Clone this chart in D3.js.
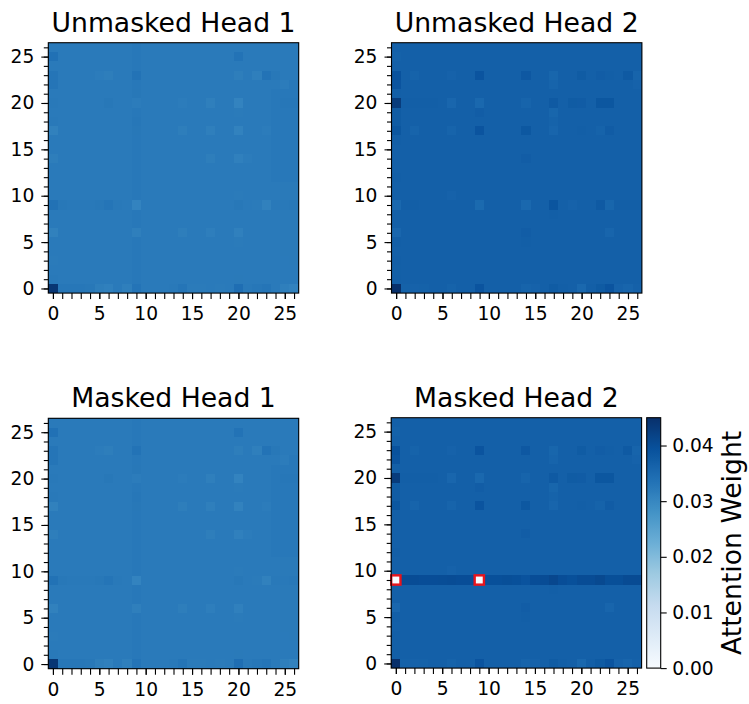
<!DOCTYPE html>
<html>
<head>
<meta charset="utf-8">
<script src="https://cdn.jsdelivr.net/npm/d3@7"></script>
<style>
  body { margin: 0; background: #fff; }
  text { font-family: "DejaVu Sans", sans-serif; fill: #000; }
</style>
</head>
<body>
<svg id="chart" width="749" height="704"></svg>
<script>
// Token positions along both axes (27 x 27 attention maps)
const positions = d3.range(27);
const majorTicks = [0, 5, 10, 15, 20, 25];
const colorDomain = [0, 0.045];
const colorbarTicks = [0, 0.01, 0.02, 0.03, 0.04];
const panelTitles = ["Unmasked Head 1", "Unmasked Head 2", "Masked Head 1", "Masked Head 2"];
const colorbarLabel = "Attention Weight";
// Masked (row, col) entries of head 2
const maskedCells = [[9, 0], [9, 9]];

// Attention weights, matrix[row][col], row 0 drawn at the bottom
const unmaskedHead1 = [
  [.0440,.0328,.0328,.0327,.0326,.0316,.0312,.0322,.0314, .0332,.0322,.0322,.0322,.0324,.0331,.0320,.0320,.0322, .0320,.0322,.0342,.0324,.0328,.0330,.0322,.0314,.0308],
  [.0324,.0322,.0322,.0322,.0322,.0322,.0322,.0322,.0322, .0325,.0322,.0322,.0322,.0322,.0322,.0322,.0322,.0322, .0322,.0322,.0323,.0322,.0322,.0322,.0322,.0322,.0322],
  [.0322,.0322,.0322,.0322,.0322,.0322,.0322,.0322,.0322, .0325,.0322,.0322,.0322,.0322,.0322,.0322,.0322,.0322, .0322,.0322,.0322,.0322,.0322,.0322,.0322,.0322,.0322],
  [.0320,.0322,.0322,.0322,.0322,.0322,.0322,.0322,.0322, .0325,.0322,.0322,.0322,.0322,.0322,.0322,.0322,.0322, .0322,.0322,.0322,.0322,.0322,.0322,.0322,.0322,.0323],
  [.0322,.0322,.0322,.0322,.0322,.0322,.0322,.0322,.0322, .0325,.0322,.0322,.0322,.0322,.0322,.0322,.0322,.0322, .0322,.0322,.0322,.0322,.0322,.0322,.0322,.0323,.0323],
  [.0322,.0322,.0322,.0322,.0322,.0322,.0322,.0322,.0322, .0325,.0322,.0322,.0322,.0322,.0322,.0322,.0322,.0322, .0322,.0322,.0321,.0322,.0322,.0322,.0322,.0323,.0323],
  [.0310,.0322,.0322,.0322,.0322,.0322,.0322,.0322,.0322, .0314,.0322,.0322,.0322,.0322,.0316,.0322,.0322,.0315, .0322,.0322,.0312,.0322,.0322,.0322,.0322,.0323,.0323],
  [.0322,.0322,.0322,.0322,.0322,.0322,.0322,.0322,.0322, .0325,.0322,.0322,.0322,.0322,.0322,.0322,.0322,.0322, .0322,.0322,.0322,.0322,.0322,.0322,.0322,.0323,.0323],
  [.0322,.0322,.0322,.0322,.0322,.0322,.0322,.0322,.0322, .0325,.0322,.0322,.0322,.0322,.0322,.0322,.0322,.0322, .0322,.0322,.0322,.0322,.0322,.0322,.0322,.0323,.0323],
  [.0336,.0326,.0324,.0324,.0324,.0326,.0330,.0324,.0322, .0306,.0322,.0322,.0322,.0322,.0322,.0322,.0322,.0322, .0322,.0322,.0326,.0322,.0320,.0310,.0324,.0324,.0326],
  [.0322,.0322,.0322,.0322,.0322,.0322,.0322,.0322,.0322, .0325,.0322,.0322,.0322,.0322,.0322,.0322,.0322,.0322, .0322,.0322,.0320,.0322,.0322,.0322,.0322,.0323,.0323],
  [.0322,.0322,.0322,.0322,.0322,.0322,.0322,.0322,.0322, .0325,.0322,.0322,.0322,.0322,.0322,.0322,.0322,.0322, .0322,.0322,.0322,.0322,.0322,.0322,.0322,.0323,.0323],
  [.0322,.0322,.0322,.0322,.0322,.0322,.0322,.0322,.0322, .0325,.0322,.0322,.0322,.0322,.0322,.0322,.0322,.0322, .0322,.0322,.0322,.0322,.0322,.0322,.0325,.0325,.0325],
  [.0322,.0322,.0322,.0322,.0322,.0322,.0322,.0322,.0322, .0325,.0322,.0322,.0322,.0322,.0322,.0322,.0322,.0322, .0322,.0322,.0322,.0322,.0322,.0322,.0325,.0325,.0325],
  [.0316,.0322,.0322,.0322,.0322,.0322,.0322,.0322,.0322, .0325,.0322,.0322,.0322,.0322,.0322,.0322,.0322,.0316, .0322,.0322,.0312,.0318,.0322,.0322,.0325,.0325,.0325],
  [.0322,.0322,.0322,.0322,.0322,.0322,.0322,.0322,.0322, .0325,.0322,.0322,.0322,.0322,.0322,.0322,.0322,.0322, .0322,.0322,.0322,.0322,.0322,.0322,.0325,.0325,.0325],
  [.0322,.0322,.0322,.0322,.0322,.0322,.0322,.0322,.0322, .0325,.0322,.0322,.0322,.0322,.0322,.0322,.0322,.0322, .0322,.0322,.0322,.0322,.0322,.0322,.0325,.0325,.0325],
  [.0310,.0322,.0322,.0322,.0322,.0322,.0322,.0322,.0322, .0326,.0322,.0322,.0322,.0322,.0316,.0322,.0322,.0314, .0322,.0322,.0308,.0322,.0322,.0318,.0325,.0325,.0325],
  [.0324,.0322,.0322,.0322,.0322,.0322,.0322,.0322,.0322, .0328,.0322,.0322,.0322,.0322,.0322,.0322,.0322,.0322, .0322,.0322,.0322,.0322,.0322,.0322,.0325,.0325,.0325],
  [.0322,.0322,.0322,.0322,.0322,.0322,.0322,.0322,.0322, .0325,.0322,.0322,.0322,.0322,.0322,.0322,.0322,.0322, .0322,.0322,.0320,.0322,.0322,.0322,.0325,.0325,.0325],
  [.0324,.0322,.0322,.0322,.0322,.0322,.0326,.0322,.0322, .0318,.0322,.0322,.0322,.0322,.0318,.0322,.0322,.0314, .0322,.0322,.0306,.0322,.0322,.0322,.0325,.0327,.0327],
  [.0322,.0322,.0322,.0322,.0322,.0322,.0322,.0322,.0322, .0326,.0322,.0322,.0322,.0322,.0322,.0322,.0322,.0322, .0322,.0322,.0322,.0322,.0322,.0322,.0325,.0325,.0325],
  [.0330,.0322,.0322,.0322,.0322,.0322,.0322,.0322,.0322, .0325,.0322,.0322,.0322,.0322,.0322,.0322,.0322,.0322, .0322,.0322,.0322,.0322,.0322,.0322,.0322,.0318,.0325],
  [.0330,.0322,.0322,.0322,.0322,.0318,.0316,.0322,.0322, .0334,.0322,.0322,.0322,.0322,.0322,.0322,.0322,.0322, .0322,.0322,.0316,.0322,.0314,.0334,.0326,.0322,.0322],
  [.0322,.0322,.0322,.0322,.0322,.0322,.0322,.0322,.0322, .0325,.0322,.0322,.0322,.0322,.0322,.0322,.0322,.0322, .0322,.0322,.0322,.0322,.0322,.0322,.0322,.0322,.0322],
  [.0338,.0322,.0322,.0322,.0322,.0322,.0322,.0322,.0322, .0325,.0322,.0322,.0322,.0322,.0322,.0322,.0322,.0322, .0322,.0322,.0334,.0322,.0322,.0322,.0322,.0322,.0322],
  [.0322,.0322,.0322,.0322,.0322,.0322,.0322,.0322,.0322, .0325,.0322,.0322,.0322,.0322,.0322,.0322,.0322,.0322, .0322,.0322,.0322,.0322,.0322,.0322,.0322,.0322,.0322]
];

const unmaskedHead2 = [
  [.0450,.0364,.0363,.0364,.0367,.0367,.0362,.0367,.0367, .0388,.0367,.0367,.0367,.0367,.0360,.0363,.0367,.0375, .0370,.0367,.0354,.0370,.0377,.0388,.0363,.0358,.0365],
  [.0369,.0367,.0367,.0367,.0367,.0367,.0367,.0367,.0367, .0367,.0367,.0367,.0367,.0367,.0367,.0367,.0367,.0367, .0367,.0367,.0367,.0367,.0367,.0367,.0367,.0367,.0367],
  [.0368,.0367,.0367,.0367,.0367,.0367,.0367,.0367,.0367, .0367,.0367,.0367,.0367,.0367,.0367,.0367,.0367,.0367, .0367,.0367,.0367,.0367,.0367,.0367,.0367,.0367,.0367],
  [.0369,.0367,.0367,.0367,.0367,.0367,.0367,.0367,.0367, .0367,.0367,.0367,.0367,.0367,.0367,.0367,.0367,.0367, .0367,.0367,.0367,.0367,.0367,.0367,.0367,.0367,.0367],
  [.0367,.0367,.0367,.0367,.0367,.0367,.0367,.0367,.0367, .0367,.0367,.0367,.0367,.0367,.0367,.0367,.0367,.0367, .0367,.0367,.0367,.0367,.0367,.0367,.0367,.0367,.0367],
  [.0369,.0367,.0367,.0367,.0367,.0367,.0367,.0367,.0367, .0367,.0367,.0367,.0367,.0367,.0370,.0367,.0367,.0367, .0367,.0367,.0367,.0367,.0367,.0367,.0367,.0367,.0367],
  [.0356,.0367,.0367,.0367,.0367,.0367,.0367,.0367,.0367, .0367,.0367,.0367,.0367,.0367,.0372,.0367,.0367,.0367, .0367,.0367,.0367,.0367,.0367,.0358,.0367,.0367,.0367],
  [.0367,.0367,.0367,.0367,.0367,.0367,.0367,.0367,.0367, .0367,.0367,.0367,.0367,.0367,.0367,.0367,.0367,.0367, .0367,.0367,.0367,.0367,.0367,.0367,.0367,.0367,.0367],
  [.0367,.0367,.0367,.0367,.0367,.0367,.0367,.0367,.0367, .0367,.0367,.0367,.0367,.0367,.0367,.0367,.0367,.0370, .0367,.0367,.0367,.0367,.0367,.0367,.0367,.0367,.0367],
  [.0354,.0369,.0370,.0367,.0367,.0367,.0367,.0367,.0367, .0350,.0367,.0367,.0367,.0367,.0354,.0367,.0367,.0386, .0367,.0363,.0367,.0367,.0378,.0357,.0370,.0370,.0370],
  [.0367,.0367,.0367,.0367,.0367,.0367,.0363,.0367,.0367, .0367,.0367,.0367,.0367,.0367,.0367,.0367,.0367,.0367, .0367,.0367,.0367,.0367,.0367,.0367,.0367,.0367,.0367],
  [.0367,.0367,.0367,.0367,.0367,.0367,.0367,.0367,.0367, .0367,.0367,.0367,.0367,.0367,.0367,.0367,.0367,.0367, .0367,.0367,.0367,.0367,.0367,.0367,.0367,.0367,.0367],
  [.0369,.0367,.0367,.0367,.0367,.0367,.0367,.0367,.0367, .0367,.0367,.0367,.0367,.0367,.0367,.0367,.0367,.0367, .0367,.0367,.0367,.0367,.0367,.0367,.0367,.0367,.0367],
  [.0367,.0367,.0367,.0367,.0367,.0367,.0367,.0367,.0367, .0367,.0367,.0367,.0367,.0367,.0367,.0367,.0367,.0367, .0367,.0367,.0367,.0367,.0367,.0367,.0367,.0367,.0367],
  [.0367,.0367,.0367,.0367,.0367,.0367,.0367,.0367,.0367, .0367,.0367,.0367,.0367,.0367,.0372,.0367,.0367,.0367, .0367,.0367,.0367,.0367,.0367,.0367,.0367,.0367,.0367],
  [.0367,.0367,.0367,.0367,.0367,.0367,.0367,.0367,.0367, .0367,.0367,.0367,.0367,.0367,.0367,.0367,.0367,.0367, .0367,.0367,.0367,.0367,.0367,.0367,.0367,.0367,.0367],
  [.0370,.0367,.0367,.0367,.0367,.0367,.0367,.0367,.0367, .0367,.0367,.0367,.0367,.0367,.0367,.0367,.0367,.0367, .0367,.0367,.0367,.0367,.0367,.0367,.0367,.0367,.0367],
  [.0384,.0367,.0360,.0367,.0367,.0367,.0360,.0367,.0367, .0388,.0367,.0367,.0367,.0367,.0382,.0367,.0367,.0358, .0367,.0367,.0369,.0367,.0362,.0374,.0367,.0367,.0367],
  [.0375,.0367,.0367,.0367,.0367,.0367,.0367,.0367,.0367, .0367,.0367,.0367,.0367,.0367,.0367,.0367,.0367,.0362, .0367,.0367,.0367,.0367,.0367,.0367,.0367,.0367,.0367],
  [.0375,.0367,.0367,.0367,.0367,.0367,.0367,.0367,.0367, .0372,.0367,.0367,.0367,.0367,.0367,.0367,.0367,.0357, .0367,.0367,.0367,.0367,.0367,.0367,.0367,.0367,.0367],
  [.0430,.0370,.0370,.0370,.0370,.0367,.0356,.0367,.0367, .0354,.0367,.0367,.0367,.0367,.0360,.0367,.0367,.0378, .0367,.0375,.0374,.0367,.0384,.0384,.0367,.0367,.0367],
  [.0370,.0367,.0367,.0367,.0367,.0367,.0367,.0367,.0367, .0367,.0367,.0367,.0367,.0367,.0367,.0367,.0367,.0367, .0367,.0367,.0367,.0367,.0367,.0367,.0367,.0367,.0367],
  [.0388,.0367,.0367,.0367,.0367,.0367,.0367,.0367,.0367, .0367,.0367,.0367,.0367,.0367,.0367,.0367,.0367,.0360, .0367,.0367,.0367,.0367,.0367,.0367,.0367,.0367,.0363],
  [.0392,.0367,.0362,.0367,.0367,.0367,.0363,.0367,.0367, .0388,.0367,.0367,.0367,.0367,.0381,.0367,.0367,.0357, .0367,.0367,.0375,.0367,.0372,.0370,.0367,.0378,.0360],
  [.0367,.0367,.0367,.0367,.0367,.0367,.0367,.0367,.0367, .0367,.0367,.0367,.0367,.0367,.0367,.0367,.0367,.0367, .0367,.0367,.0367,.0367,.0367,.0367,.0367,.0367,.0367],
  [.0364,.0367,.0367,.0367,.0367,.0367,.0367,.0367,.0367, .0367,.0367,.0367,.0367,.0367,.0367,.0367,.0367,.0367, .0367,.0367,.0367,.0367,.0367,.0367,.0367,.0367,.0367],
  [.0367,.0367,.0367,.0367,.0367,.0367,.0367,.0367,.0367, .0367,.0367,.0367,.0367,.0367,.0367,.0367,.0367,.0367, .0367,.0367,.0367,.0367,.0367,.0367,.0367,.0367,.0367]
];

const maskedHead1 = [
  [.0440,.0328,.0328,.0327,.0326,.0316,.0312,.0322,.0314, .0332,.0322,.0322,.0322,.0324,.0331,.0320,.0320,.0322, .0320,.0322,.0342,.0324,.0328,.0330,.0322,.0314,.0308],
  [.0324,.0322,.0322,.0322,.0322,.0322,.0322,.0322,.0322, .0325,.0322,.0322,.0322,.0322,.0322,.0322,.0322,.0322, .0322,.0322,.0323,.0322,.0322,.0322,.0322,.0322,.0322],
  [.0322,.0322,.0322,.0322,.0322,.0322,.0322,.0322,.0322, .0325,.0322,.0322,.0322,.0322,.0322,.0322,.0322,.0322, .0322,.0322,.0322,.0322,.0322,.0322,.0322,.0322,.0322],
  [.0320,.0322,.0322,.0322,.0322,.0322,.0322,.0322,.0322, .0325,.0322,.0322,.0322,.0322,.0322,.0322,.0322,.0322, .0322,.0322,.0322,.0322,.0322,.0322,.0322,.0322,.0323],
  [.0322,.0322,.0322,.0322,.0322,.0322,.0322,.0322,.0322, .0325,.0322,.0322,.0322,.0322,.0322,.0322,.0322,.0322, .0322,.0322,.0322,.0322,.0322,.0322,.0322,.0323,.0323],
  [.0322,.0322,.0322,.0322,.0322,.0322,.0322,.0322,.0322, .0325,.0322,.0322,.0322,.0322,.0322,.0322,.0322,.0322, .0322,.0322,.0321,.0322,.0322,.0322,.0322,.0323,.0323],
  [.0310,.0322,.0322,.0322,.0322,.0322,.0322,.0322,.0322, .0314,.0322,.0322,.0322,.0322,.0316,.0322,.0322,.0315, .0322,.0322,.0312,.0322,.0322,.0322,.0322,.0323,.0323],
  [.0322,.0322,.0322,.0322,.0322,.0322,.0322,.0322,.0322, .0325,.0322,.0322,.0322,.0322,.0322,.0322,.0322,.0322, .0322,.0322,.0322,.0322,.0322,.0322,.0322,.0323,.0323],
  [.0322,.0322,.0322,.0322,.0322,.0322,.0322,.0322,.0322, .0325,.0322,.0322,.0322,.0322,.0322,.0322,.0322,.0322, .0322,.0322,.0322,.0322,.0322,.0322,.0322,.0323,.0323],
  [.0336,.0326,.0324,.0324,.0324,.0326,.0330,.0324,.0322, .0306,.0322,.0322,.0322,.0322,.0322,.0322,.0322,.0322, .0322,.0322,.0326,.0322,.0320,.0310,.0324,.0324,.0326],
  [.0322,.0322,.0322,.0322,.0322,.0322,.0322,.0322,.0322, .0325,.0322,.0322,.0322,.0322,.0322,.0322,.0322,.0322, .0322,.0322,.0320,.0322,.0322,.0322,.0322,.0323,.0323],
  [.0322,.0322,.0322,.0322,.0322,.0322,.0322,.0322,.0322, .0325,.0322,.0322,.0322,.0322,.0322,.0322,.0322,.0322, .0322,.0322,.0322,.0322,.0322,.0322,.0322,.0323,.0323],
  [.0322,.0322,.0322,.0322,.0322,.0322,.0322,.0322,.0322, .0325,.0322,.0322,.0322,.0322,.0322,.0322,.0322,.0322, .0322,.0322,.0322,.0322,.0322,.0322,.0325,.0325,.0325],
  [.0322,.0322,.0322,.0322,.0322,.0322,.0322,.0322,.0322, .0325,.0322,.0322,.0322,.0322,.0322,.0322,.0322,.0322, .0322,.0322,.0322,.0322,.0322,.0322,.0325,.0325,.0325],
  [.0316,.0322,.0322,.0322,.0322,.0322,.0322,.0322,.0322, .0325,.0322,.0322,.0322,.0322,.0322,.0322,.0322,.0316, .0322,.0322,.0312,.0318,.0322,.0322,.0325,.0325,.0325],
  [.0322,.0322,.0322,.0322,.0322,.0322,.0322,.0322,.0322, .0325,.0322,.0322,.0322,.0322,.0322,.0322,.0322,.0322, .0322,.0322,.0322,.0322,.0322,.0322,.0325,.0325,.0325],
  [.0322,.0322,.0322,.0322,.0322,.0322,.0322,.0322,.0322, .0325,.0322,.0322,.0322,.0322,.0322,.0322,.0322,.0322, .0322,.0322,.0322,.0322,.0322,.0322,.0325,.0325,.0325],
  [.0310,.0322,.0322,.0322,.0322,.0322,.0322,.0322,.0322, .0326,.0322,.0322,.0322,.0322,.0316,.0322,.0322,.0314, .0322,.0322,.0308,.0322,.0322,.0318,.0325,.0325,.0325],
  [.0324,.0322,.0322,.0322,.0322,.0322,.0322,.0322,.0322, .0328,.0322,.0322,.0322,.0322,.0322,.0322,.0322,.0322, .0322,.0322,.0322,.0322,.0322,.0322,.0325,.0325,.0325],
  [.0322,.0322,.0322,.0322,.0322,.0322,.0322,.0322,.0322, .0325,.0322,.0322,.0322,.0322,.0322,.0322,.0322,.0322, .0322,.0322,.0320,.0322,.0322,.0322,.0325,.0325,.0325],
  [.0324,.0322,.0322,.0322,.0322,.0322,.0326,.0322,.0322, .0318,.0322,.0322,.0322,.0322,.0318,.0322,.0322,.0314, .0322,.0322,.0306,.0322,.0322,.0322,.0325,.0327,.0327],
  [.0322,.0322,.0322,.0322,.0322,.0322,.0322,.0322,.0322, .0326,.0322,.0322,.0322,.0322,.0322,.0322,.0322,.0322, .0322,.0322,.0322,.0322,.0322,.0322,.0325,.0325,.0325],
  [.0330,.0322,.0322,.0322,.0322,.0322,.0322,.0322,.0322, .0325,.0322,.0322,.0322,.0322,.0322,.0322,.0322,.0322, .0322,.0322,.0322,.0322,.0322,.0322,.0322,.0318,.0325],
  [.0330,.0322,.0322,.0322,.0322,.0318,.0316,.0322,.0322, .0334,.0322,.0322,.0322,.0322,.0322,.0322,.0322,.0322, .0322,.0322,.0316,.0322,.0314,.0334,.0326,.0322,.0322],
  [.0322,.0322,.0322,.0322,.0322,.0322,.0322,.0322,.0322, .0325,.0322,.0322,.0322,.0322,.0322,.0322,.0322,.0322, .0322,.0322,.0322,.0322,.0322,.0322,.0322,.0322,.0322],
  [.0338,.0322,.0322,.0322,.0322,.0322,.0322,.0322,.0322, .0325,.0322,.0322,.0322,.0322,.0322,.0322,.0322,.0322, .0322,.0322,.0334,.0322,.0322,.0322,.0322,.0322,.0322],
  [.0322,.0322,.0322,.0322,.0322,.0322,.0322,.0322,.0322, .0325,.0322,.0322,.0322,.0322,.0322,.0322,.0322,.0322, .0322,.0322,.0322,.0322,.0322,.0322,.0322,.0322,.0322]
];

const maskedHead2 = [
  [.0450,.0364,.0363,.0364,.0367,.0367,.0362,.0367,.0367, .0388,.0367,.0367,.0367,.0367,.0360,.0363,.0367,.0375, .0370,.0367,.0354,.0370,.0377,.0388,.0363,.0358,.0365],
  [.0369,.0367,.0367,.0367,.0367,.0367,.0367,.0367,.0367, .0367,.0367,.0367,.0367,.0367,.0367,.0367,.0367,.0367, .0367,.0367,.0367,.0367,.0367,.0367,.0367,.0367,.0367],
  [.0368,.0367,.0367,.0367,.0367,.0367,.0367,.0367,.0367, .0367,.0367,.0367,.0367,.0367,.0367,.0367,.0367,.0367, .0367,.0367,.0367,.0367,.0367,.0367,.0367,.0367,.0367],
  [.0369,.0367,.0367,.0367,.0367,.0367,.0367,.0367,.0367, .0367,.0367,.0367,.0367,.0367,.0367,.0367,.0367,.0367, .0367,.0367,.0367,.0367,.0367,.0367,.0367,.0367,.0367],
  [.0367,.0367,.0367,.0367,.0367,.0367,.0367,.0367,.0367, .0367,.0367,.0367,.0367,.0367,.0367,.0367,.0367,.0367, .0367,.0367,.0367,.0367,.0367,.0367,.0367,.0367,.0367],
  [.0369,.0367,.0367,.0367,.0367,.0367,.0367,.0367,.0367, .0367,.0367,.0367,.0367,.0367,.0370,.0367,.0367,.0367, .0367,.0367,.0367,.0367,.0367,.0367,.0367,.0367,.0367],
  [.0356,.0367,.0367,.0367,.0367,.0367,.0367,.0367,.0367, .0367,.0367,.0367,.0367,.0367,.0372,.0367,.0367,.0367, .0367,.0367,.0367,.0367,.0367,.0358,.0367,.0367,.0367],
  [.0367,.0367,.0367,.0367,.0367,.0367,.0367,.0367,.0367, .0367,.0367,.0367,.0367,.0367,.0367,.0367,.0367,.0367, .0367,.0367,.0367,.0367,.0367,.0367,.0367,.0367,.0367],
  [.0367,.0367,.0367,.0367,.0367,.0367,.0367,.0367,.0367, .0367,.0367,.0367,.0367,.0367,.0367,.0367,.0367,.0370, .0367,.0367,.0367,.0367,.0367,.0367,.0367,.0367,.0367],
  [0,    .0402,.0402,.0400,.0400,.0401,.0402,.0400,.0400, 0,    .0396,.0396,.0398,.0396,.0390,.0400,.0402,.0410, .0400,.0396,.0402,.0402,.0408,.0398,.0398,.0404,.0404],
  [.0367,.0367,.0367,.0367,.0367,.0367,.0363,.0367,.0367, .0367,.0367,.0367,.0367,.0367,.0367,.0367,.0367,.0367, .0367,.0367,.0367,.0367,.0367,.0367,.0367,.0367,.0367],
  [.0367,.0367,.0367,.0367,.0367,.0367,.0367,.0367,.0367, .0367,.0367,.0367,.0367,.0367,.0367,.0367,.0367,.0367, .0367,.0367,.0367,.0367,.0367,.0367,.0367,.0367,.0367],
  [.0369,.0367,.0367,.0367,.0367,.0367,.0367,.0367,.0367, .0367,.0367,.0367,.0367,.0367,.0367,.0367,.0367,.0367, .0367,.0367,.0367,.0367,.0367,.0367,.0367,.0367,.0367],
  [.0367,.0367,.0367,.0367,.0367,.0367,.0367,.0367,.0367, .0367,.0367,.0367,.0367,.0367,.0367,.0367,.0367,.0367, .0367,.0367,.0367,.0367,.0367,.0367,.0367,.0367,.0367],
  [.0367,.0367,.0367,.0367,.0367,.0367,.0367,.0367,.0367, .0367,.0367,.0367,.0367,.0367,.0372,.0367,.0367,.0367, .0367,.0367,.0367,.0367,.0367,.0367,.0367,.0367,.0367],
  [.0367,.0367,.0367,.0367,.0367,.0367,.0367,.0367,.0367, .0367,.0367,.0367,.0367,.0367,.0367,.0367,.0367,.0367, .0367,.0367,.0367,.0367,.0367,.0367,.0367,.0367,.0367],
  [.0370,.0367,.0367,.0367,.0367,.0367,.0367,.0367,.0367, .0367,.0367,.0367,.0367,.0367,.0367,.0367,.0367,.0367, .0367,.0367,.0367,.0367,.0367,.0367,.0367,.0367,.0367],
  [.0384,.0367,.0360,.0367,.0367,.0367,.0360,.0367,.0367, .0388,.0367,.0367,.0367,.0367,.0382,.0367,.0367,.0358, .0367,.0367,.0369,.0367,.0362,.0374,.0367,.0367,.0367],
  [.0375,.0367,.0367,.0367,.0367,.0367,.0367,.0367,.0367, .0367,.0367,.0367,.0367,.0367,.0367,.0367,.0367,.0362, .0367,.0367,.0367,.0367,.0367,.0367,.0367,.0367,.0367],
  [.0375,.0367,.0367,.0367,.0367,.0367,.0367,.0367,.0367, .0372,.0367,.0367,.0367,.0367,.0367,.0367,.0367,.0357, .0367,.0367,.0367,.0367,.0367,.0367,.0367,.0367,.0367],
  [.0430,.0370,.0370,.0370,.0370,.0367,.0356,.0367,.0367, .0354,.0367,.0367,.0367,.0367,.0360,.0367,.0367,.0378, .0367,.0375,.0374,.0367,.0384,.0384,.0367,.0367,.0367],
  [.0370,.0367,.0367,.0367,.0367,.0367,.0367,.0367,.0367, .0367,.0367,.0367,.0367,.0367,.0367,.0367,.0367,.0367, .0367,.0367,.0367,.0367,.0367,.0367,.0367,.0367,.0367],
  [.0388,.0367,.0367,.0367,.0367,.0367,.0367,.0367,.0367, .0367,.0367,.0367,.0367,.0367,.0367,.0367,.0367,.0360, .0367,.0367,.0367,.0367,.0367,.0367,.0367,.0367,.0363],
  [.0392,.0367,.0362,.0367,.0367,.0367,.0363,.0367,.0367, .0388,.0367,.0367,.0367,.0367,.0381,.0367,.0367,.0357, .0367,.0367,.0375,.0367,.0372,.0370,.0367,.0378,.0360],
  [.0367,.0367,.0367,.0367,.0367,.0367,.0367,.0367,.0367, .0367,.0367,.0367,.0367,.0367,.0367,.0367,.0367,.0367, .0367,.0367,.0367,.0367,.0367,.0367,.0367,.0367,.0367],
  [.0364,.0367,.0367,.0367,.0367,.0367,.0367,.0367,.0367, .0367,.0367,.0367,.0367,.0367,.0367,.0367,.0367,.0367, .0367,.0367,.0367,.0367,.0367,.0367,.0367,.0367,.0367],
  [.0367,.0367,.0367,.0367,.0367,.0367,.0367,.0367,.0367, .0367,.0367,.0367,.0367,.0367,.0367,.0367,.0367,.0367, .0367,.0367,.0367,.0367,.0367,.0367,.0367,.0367,.0367]
];

// ---- drawing ----
const svg = d3.select("#chart");
svg.append("rect").attr("width", 749).attr("height", 704).attr("fill", "#fff");

// Sequential "Blues" ramp, linearly interpolated between its nine anchors
const bluesAnchors = ["#f7fbff","#deebf7","#c6dbef","#9ecae1","#6baed6","#4292c6","#2171b5","#08519c","#08306b"];
const color = d3.scaleLinear()
  .domain(bluesAnchors.map((_, i) => colorDomain[0] + i / (bluesAnchors.length - 1) * (colorDomain[1] - colorDomain[0])))
  .range(bluesAnchors)
  .interpolate(d3.interpolateRgb)
  .clamp(true);

const S = 250.4;
const panelOrigins = [[48.3, 42.7], [391.5, 42.7], [48.3, 418.3], [391.2, 417.7]];
const matrices = [unmaskedHead1, unmaskedHead2, maskedHead1, maskedHead2];
const TICK_FONT = 18.67, TITLE_FONT = 26.67;

matrices.forEach((matrix, p) => {
  const [ox, oy] = panelOrigins[p];
  const g = svg.append("g").attr("transform", `translate(${ox},${oy})`);

  const xBand = d3.scaleBand().domain(positions).range([0, S]);
  const yBand = d3.scaleBand().domain(positions).range([S, 0]);
  const xLin = d3.scaleLinear().domain([-0.5, 26.5]).range([0, S]);
  const yLin = d3.scaleLinear().domain([-0.5, 26.5]).range([S, 0]);

  const cells = [];
  matrix.forEach((row, r) => row.forEach((v, c) => cells.push({ r, c, v })));

  g.append("g").selectAll("rect").data(cells).join("rect")
    .attr("x", d => xBand(d.c))
    .attr("y", d => yBand(d.r))
    .attr("width", xBand.bandwidth())
    .attr("height", yBand.bandwidth())
    .attr("fill", d => color(d.v))
    .attr("shape-rendering", "crispEdges");

  if (p === 3) {
    g.append("g").selectAll("rect").data(maskedCells).join("rect")
      .attr("x", d => xBand(d[1]))
      .attr("y", d => yBand(d[0]))
      .attr("width", xBand.bandwidth())
      .attr("height", yBand.bandwidth())
      .attr("fill", "none")
      .attr("stroke", "#e8141c")
      .attr("stroke-width", 2.4);
  }

  // frame
  g.append("rect").attr("width", S).attr("height", S)
    .attr("fill", "none").attr("stroke", "#000").attr("stroke-width", 1.1);

  // x axis: ticks at every position, labels every fifth
  const xMinor = g.append("g").attr("transform", `translate(0,${S})`)
    .call(d3.axisBottom(xLin).tickValues(positions).tickSize(6).tickFormat(""));
  const xMajor = g.append("g").attr("transform", `translate(0,${S})`)
    .call(d3.axisBottom(xLin).tickValues(majorTicks).tickSize(6).tickPadding(7.7));
  // y axis: short minor ticks, longer labelled majors
  const yMinor = g.append("g")
    .call(d3.axisLeft(yLin).tickValues(positions).tickSize(4.5).tickFormat(""));
  const yMajor = g.append("g")
    .call(d3.axisLeft(yLin).tickValues(majorTicks).tickSize(7).tickPadding(7));

  [xMinor, xMajor, yMinor, yMajor].forEach(a => {
    a.select(".domain").remove();
    a.selectAll(".tick line").attr("stroke", "#000").attr("stroke-width", 1.1);
    a.selectAll(".tick text").attr("font-size", TICK_FONT).attr("font-family", "DejaVu Sans").attr("fill", "#000");
  });

  g.append("text")
    .attr("x", S / 2).attr("y", -11)
    .attr("text-anchor", "middle")
    .attr("font-size", TITLE_FONT)
    .text(panelTitles[p]);
});

// ---- colorbar ----
const cbX = 646.7, cbY = panelOrigins[3][1], cbW = 14, cbH = S;
const cbScale = d3.scaleLinear().domain(colorDomain).range([cbY + cbH, cbY]);
const defs = svg.append("defs");
const grad = defs.append("linearGradient").attr("id", "cbgrad")
  .attr("x1", 0).attr("y1", 1).attr("x2", 0).attr("y2", 0);
const gradSteps = d3.range(0, 1.0001, 1 / 64);
grad.selectAll("stop").data(gradSteps).join("stop")
  .attr("offset", t => t)
  .attr("stop-color", t => color(colorDomain[0] + t * (colorDomain[1] - colorDomain[0])));

svg.append("rect").attr("x", cbX).attr("y", cbY).attr("width", cbW).attr("height", cbH)
  .attr("fill", "url(#cbgrad)");
svg.append("rect").attr("x", cbX).attr("y", cbY).attr("width", cbW).attr("height", cbH)
  .attr("fill", "none").attr("stroke", "#000").attr("stroke-width", 1.1);

const cbAxis = svg.append("g").attr("transform", `translate(${cbX + cbW},0)`)
  .call(d3.axisRight(cbScale).tickValues(colorbarTicks).tickSize(6).tickPadding(5.5).tickFormat(d3.format(".2f")));
cbAxis.select(".domain").remove();
cbAxis.selectAll(".tick line").attr("stroke", "#000").attr("stroke-width", 1.1);
cbAxis.selectAll(".tick text").attr("font-size", TICK_FONT).attr("font-family", "DejaVu Sans").attr("fill", "#000");

svg.append("text")
  .attr("transform", `translate(741,${cbY + cbH / 2}) rotate(-90)`)
  .attr("text-anchor", "middle")
  .attr("font-size", TITLE_FONT)
  .text(colorbarLabel);
</script>
</body>
</html>
